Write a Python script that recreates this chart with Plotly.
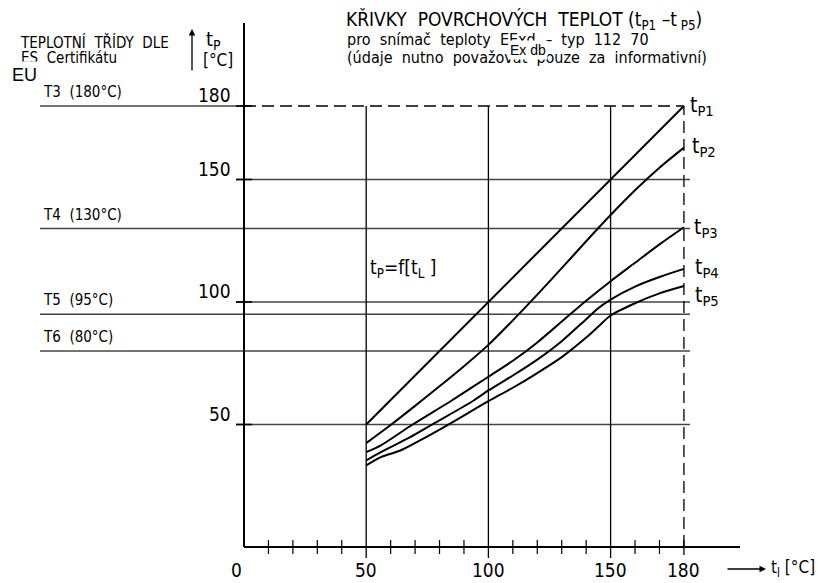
import plotly.graph_objects as go

# ---------------- data ----------------
tp1_x = [50, 180]
tp1_y = [50, 180]
tp2_x = [50, 60, 70, 80, 90, 100, 110, 120, 130, 140, 150, 160, 170, 180]
tp2_y = [42.4, 49.8, 57.6, 65.6, 73.8, 82.5, 92.5, 103, 113.8, 124.8, 135.5, 145.6, 154.8, 163]
tp3_x = [50, 56, 69, 85, 100, 110, 120, 130, 140, 150, 160, 170, 180]
tp3_y = [38.7, 41.5, 50, 59.8, 69.5, 76, 83.5, 92, 100.5, 108.5, 116, 123.5, 130.5]
tp4_x = [50, 56, 68, 77, 94, 100, 110, 120, 130, 140, 145, 150, 160, 170, 180]
tp4_y = [35.3, 38.7, 44.8, 50, 59.8, 63.9, 70, 76.5, 84, 93, 97.5, 101, 106.3, 110.2, 113.5]
tp5_x = [50, 56, 64, 72, 84, 100, 110, 120, 130, 140, 145, 150, 160, 170, 180]
tp5_y = [33.3, 36.7, 39.4, 43.5, 50.2, 59.5, 65, 71, 77.5, 85.5, 90, 94.5, 99.5, 103.5, 106.5]

curve_names = ["P1", "P2", "P3", "P4", "P5"]
x_major = [50, 100, 150]
x_max = 180
x_minor = [10, 20, 30, 40, 60, 70, 80, 90, 110, 120, 130, 140, 160, 170]
x_tick_labels = ["0", "50", "100", "150", "180"]
x_tick_vals = [0, 50, 100, 150, 180]
y_grid = [50, 100, 150]
y_tick_vals = [50, 100, 150, 180]
class_vals = [180, 130, 95, 80]
class_labels = ["T3  (180°C)", "T4  (130°C)", "T5  (95°C)", "T6  (80°C)"]

# ---------------- geometry (pixel mapping) ----------------
W, H = 818, 583
X0, SX = 244, 2.444
Y0, SY = 547, 2.45
def dx(px): return (px - X0) / SX
def dy(py): return (Y0 - py) / SY
def pxp(px): return px / W
def pyp(py): return 1 - py / H

FONT = "DejaVu Sans Condensed, Liberation Sans Narrow, Arial Narrow, sans-serif"
GRID = "#444444"
DASH = "12px,6px"

fig = go.Figure()
for xs, ys in [(tp1_x, tp1_y), (tp2_x, tp2_y), (tp3_x, tp3_y), (tp4_x, tp4_y), (tp5_x, tp5_y)]:
    fig.add_trace(go.Scatter(x=xs, y=ys, mode="lines",
                             line=dict(color="black", width=2, shape="spline", smoothing=0.8),
                             showlegend=False, hoverinfo="skip"))

shapes = []
def L(x0, y0, x1, y1, color="black", width=1.2, dash="solid"):
    shapes.append(dict(type="line", x0=x0, y0=y0, x1=x1, y1=y1, xref="x", yref="y",
                       line=dict(color=color, width=width, dash=dash), layer="below"))

for v in y_grid:
    L(dx(236), v, dx(690), v, GRID, 1.3)
for v in class_vals:
    if v == 180:
        L(dx(40), v, 0, v, GRID, 1.3)
        L(0, v, x_max, v, "black", 1.3, DASH)
    else:
        L(dx(40), v, dx(690), v, GRID, 1.3)
for v in y_tick_vals:
    L(dx(236), v, dx(252), v, "black", 1.6)
for v in x_major:
    L(v, dy(558), v, 180, "black", 1.3)
L(x_max, 0, x_max, 180, "black", 1.3, DASH)
L(x_max, dy(540), x_max, dy(555), "black", 1.3)
for v in x_minor:
    L(v, dy(540), v, dy(554), "black", 1.2)
L(0, 0, 0, dy(23), "black", 2)
L(0, 0, dx(740), 0, "black", 2)

ann = []
def T(text, px, py, size=15, xanchor="left", family=FONT, bg=None, pad=1, yanchor="middle"):
    a = dict(text=text, x=pxp(px), y=pyp(py), xref="paper", yref="paper",
             xanchor=xanchor, yanchor=yanchor, showarrow=False,
             font=dict(family=family, size=size, color="black"))
    if bg:
        a["bgcolor"] = bg
        a["borderpad"] = pad
    ann.append(a)

T("TEPLOTNÍ  TŘÍDY  DLE", 18, 42, 15)
T("ES  Certifikátu", 19, 58, 15)
T("EU", 8, 75, 18, family="Liberation Sans, Arial, sans-serif", bg="white", pad=3)
T("t<sub>P</sub>", 204, 40, 20)
T("[°C]", 201, 60, 17)
T("KŘIVKY  POVRCHOVÝCH  TEPLOT (t<sub>P1</sub> –t<sub> P5</sub>)", 344, 20, 19)
T("pro  snímač  teploty  EExd  –  typ  112  70", 345, 40, 16)
T("(údaje  nutno  považovat  pouze  za  informativní)", 345, 58, 16)
T("Ex db", 528, 50, 14, xanchor="center", family="Liberation Sans, Arial, sans-serif", bg="white")

for lab, v in zip(class_labels, class_vals):
    T(lab, 41, Y0 - v * SY - 14, 15)
for v in y_tick_vals:
    T(str(v), 233, Y0 - v * SY - 11, 19, xanchor="right")
for lab, v in zip(x_tick_labels, x_tick_vals):
    px = X0 + v * SX - (7 if v == 0 else 0)
    T(lab, px, 570, 19, xanchor="center")
T("t<sub>l</sub> [°C]", 769, 568, 17)

label_py = [106, 147, 228, 268, 296]
label_px = [688, 690, 692, 693, 693]
for n, px, py in zip(curve_names, label_px, label_py):
    T("t<sub>" + n + "</sub>", px, py, 21)
T("t<sub>P</sub>=f[t<sub>L</sub> ]", 368, 268, 19)

ann.append(dict(x=pxp(192), y=pyp(29), xref="paper", yref="paper", ax=0, ay=43,
                axref="pixel", ayref="pixel", text="", showarrow=True,
                arrowhead=2, arrowsize=1, arrowwidth=1.3, arrowcolor="black"))
ann.append(dict(x=pxp(766), y=pyp(569), xref="paper", yref="paper", ax=-40, ay=0,
                text="", showarrow=True, arrowhead=2, arrowsize=1, arrowwidth=1.3,
                arrowcolor="black"))

fig.update_layout(
    width=W, height=H, margin=dict(l=0, r=0, t=0, b=0),
    paper_bgcolor="white", plot_bgcolor="white",
    xaxis=dict(range=[dx(0), dx(W)], visible=False, fixedrange=True),
    yaxis=dict(range=[dy(H), dy(0)], visible=False, fixedrange=True),
    shapes=shapes, annotations=ann, showlegend=False,
)
fig.write_html("out.html", config={"displayModeBar": False},
               post_script="document.body.style.margin='0';document.body.style.padding='0';document.body.style.overflow='hidden';")
